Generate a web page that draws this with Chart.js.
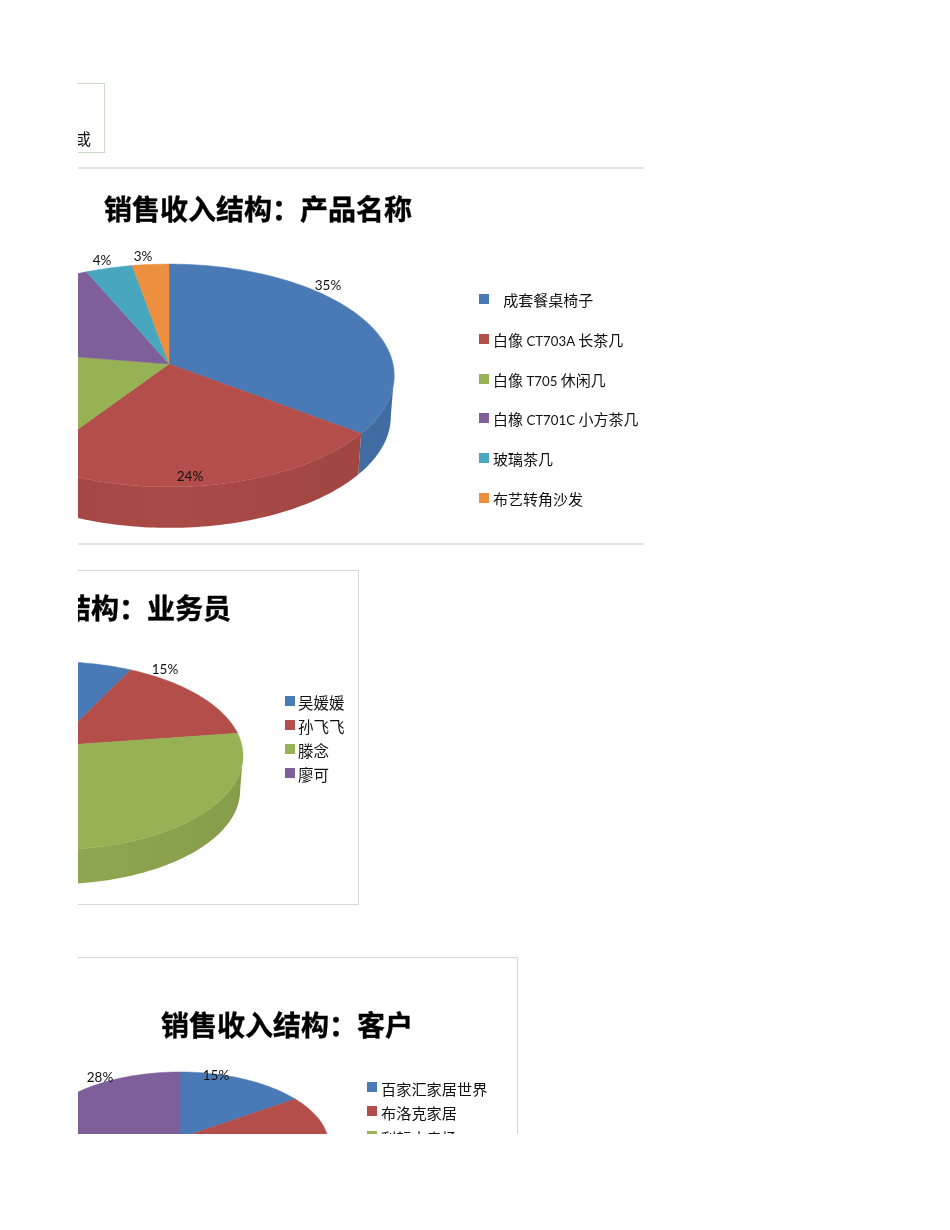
<!DOCTYPE html>
<html lang="zh">
<head>
  <meta charset="UTF-8">
  <title>销售收入结构</title>
  <script src="https://cdn.jsdelivr.net/npm/chart.js@4.4.3/dist/chart.umd.min.js"></script>
  <style>
    html, body { margin: 0; background: #fff; overflow: hidden; }
    #page {
      position: absolute; left: 0; top: 0; width: 950px; height: 1230px;
      clip-path: inset(0 0 96px 78px);
      filter: blur(0.3px);
      font-family: "Noto Sans CJK SC", sans-serif; color: #111;
    }
    #page > * { position: absolute; }
    .title { font: 700 28px/34px "Noto Sans CJK SC", sans-serif; color: #000; white-space: nowrap; -webkit-text-stroke: 0.4px #000; }
    .legend-text { font-size: 15px; line-height: 20px; white-space: pre; }
    .legend-text span { font-family: Lato; font-size: 88.5%; }
    .swatch { width: 10px; height: 10px; }
    .line { height: 2px; background: #e2e2e2; }
    .frame { border: 1px solid #d8d8d8; box-sizing: border-box; }
  </style>
</head>
<body>
  <div id="page">
    <div class="frame" style="left:-100px;top:83px;width:205px;height:70px;border-color:#c9dcc3"></div>
    <div style="left:75px;top:128px;font-size:16px;line-height:20px">或</div>
    <div class="line" style="left:0;top:167px;width:644px"></div>
    <div class="line" style="left:0;top:543px;width:644px"></div>
    <div class="frame" style="left:-200px;top:570px;width:559px;height:335px"></div>
    <div class="frame" style="left:-100px;top:957px;width:618px;height:300px"></div>
  </div>

  <script>
    const productNames = ['   成套餐桌椅子', '白像 CT703A 长茶几', '白像 T705 休闲几', '白橡 CT701C 小方茶几', '玻璃茶几', '布艺转角沙发'];
    const productShares = [35.1, 24.49, 17.91, 15.9, 3.7, 2.9];

    const sellerNames = ['吴媛媛', '孙飞飞', '滕念', '廖可'];
    const sellerShares = [7.4, 15.4, 47.2, 30];

    const customerNames = ['百家汇家居世界', '布洛克家居', '利耘大卖场'];
    const customerShares = [15.4, 30, 26.6, 28];

    const sliceColors = ['#4a7ab5', '#b34e4a', '#97b155', '#7e5f9a', '#48a6be', '#ec8f3f'];

    const page = document.getElementById('page');

    // excel style 3d pie: the arcs come from chart.js, only the projection is ours
    const tilt = 0.492;
    const perspective = -0.103;

    function project(arc, angle) {
      const w = 1 + perspective * Math.sin(angle);
      return {
        x: arc.x + arc.outerRadius * Math.cos(angle) / w,
        y: arc.y + arc.outerRadius * tilt * Math.sin(angle) / w
      };
    }

    function rimPoints(arc) {
      const pts = [];
      const steps = Math.ceil((arc.endAngle - arc.startAngle) / 0.02);
      for (let i = 0; i <= steps; i++) {
        pts.push(project(arc, arc.startAngle + (arc.endAngle - arc.startAngle) * i / steps));
      }
      return pts;
    }

    function shade(hex, f) {
      const n = parseInt(hex.slice(1), 16);
      return `rgb(${(n >> 16) * f | 0},${((n >> 8) & 255) * f | 0},${(n & 255) * f | 0})`;
    }

    const pie3d = {
      id: 'pie3d',
      beforeDatasetsDraw(chart, args, opts) {
        const ctx = chart.ctx;
        const arcs = chart.getDatasetMeta(0).data;
        const colors = chart.data.datasets[0].backgroundColor;

        // side wall first, the top face covers whatever is left behind it
        arcs.forEach((arc, i) => {
          const depth = arc.outerRadius * 0.183;
          const rim = rimPoints(arc);
          const grad = ctx.createLinearGradient(arc.x - arc.outerRadius, 0, arc.x + arc.outerRadius, 0);
          grad.addColorStop(0, shade(colors[i], 0.88));
          grad.addColorStop(0.5, shade(colors[i], 0.95));
          grad.addColorStop(1, shade(colors[i], 0.89));
          ctx.beginPath();
          for (let k = 1; k < rim.length; k++) {
            const a = rim[k - 1];
            const b = rim[k];
            // skip strips facing away, they would cancel out in the same path
            if (b.x - a.x >= 0) continue;
            ctx.moveTo(a.x, a.y);
            ctx.lineTo(b.x, b.y);
            ctx.lineTo(arc.x + (b.x - arc.x) * 0.985, b.y + depth);
            ctx.lineTo(arc.x + (a.x - arc.x) * 0.985, a.y + depth);
            ctx.closePath();
          }
          ctx.fillStyle = grad;
          ctx.fill();
        });

        arcs.forEach((arc, i) => {
          ctx.beginPath();
          ctx.moveTo(arc.x, arc.y);
          rimPoints(arc).forEach(p => ctx.lineTo(p.x, p.y));
          ctx.closePath();
          ctx.fillStyle = colors[i];
          ctx.strokeStyle = colors[i];
          ctx.lineWidth = 0.5;
          ctx.fill();
          ctx.stroke();
        });

        ctx.fillStyle = '#111';
        ctx.font = '13.5px Lato';
        ctx.textAlign = 'center';
        ctx.textBaseline = 'middle';
        arcs.forEach((arc, i) => {
          const at = opts.labelAt[i];
          ctx.fillText(Math.round(chart.data.datasets[0].data[i]) + '%', arc.x + at[0], arc.y + at[1]);
        });
        return false;
      }
    };

    function addPie(shares, apexX, apexY, radius, labelAt) {
      const half = radius + 40;
      const canvas = document.createElement('canvas');
      canvas.width = half * 2;
      canvas.height = half * 2;
      canvas.style.left = (apexX - half) + 'px';
      canvas.style.top = (apexY - half) + 'px';
      page.appendChild(canvas);
      new Chart(canvas, {
        type: 'pie',
        data: { datasets: [{ data: shares, backgroundColor: sliceColors.slice(0, shares.length) }] },
        options: {
          responsive: false,
          animation: false,
          radius: radius,
          plugins: { legend: { display: false }, tooltip: { enabled: false }, pie3d: { labelAt } }
        },
        plugins: [pie3d]
      });
    }

    function addTitle(text, left, centerY) {
      const el = document.createElement('div');
      el.className = 'title';
      el.textContent = text;
      el.style.left = left + 'px';
      el.style.top = (centerY - 17) + 'px';
      page.appendChild(el);
    }

    function addLegend(names, boxX, textX, firstY, step, fontSize) {
      names.forEach((name, i) => {
        const y = firstY + step * i;
        const box = document.createElement('div');
        box.className = 'swatch';
        box.style.cssText = `left:${boxX}px;top:${y - 6}px;background:${sliceColors[i]}`;
        const label = document.createElement('div');
        label.className = 'legend-text';
        // latin runs are set smaller than the chinese, as in the sheet
        name.split(/([\x20-\x7e]+)/).forEach((part, k) => {
          if (k % 2) {
            const span = document.createElement('span');
            span.textContent = part;
            label.appendChild(span);
          } else {
            label.appendChild(document.createTextNode(part));
          }
        });
        label.style.cssText = `left:${textX}px;top:${y - 10}px;font-size:${fontSize}px`;
        page.appendChild(box);
        page.appendChild(label);
      });
    }

    addTitle('销售收入结构：产品名称', 104, 208);
    addPie(productShares, 169, 364, 224, [[159, -78], [21, 113], [-180, 60], [-180, -40], [-67, -103], [-26, -107]]);
    addLegend(productNames, 479, 493, 300, 39.8, 15);

    addTitle('销售收入结构：业务员', -49, 607);
    addPie(sellerShares, 53, 746, 189, [[12, -76], [112, -76], [-120, 120], [-120, -20]]);
    addLegend(sellerNames, 285, 298, 702, 24, 15.5);

    addTitle('销售收入结构：客户', 161, 1024);
    addPie(customerShares, 180, 1138, 148, [[36, -62], [100, 20], [-20, 60], [-80, -60]]);
    addLegend(customerNames, 367, 381, 1088, 24.4, 15.2);
  </script>
</body>
</html>
